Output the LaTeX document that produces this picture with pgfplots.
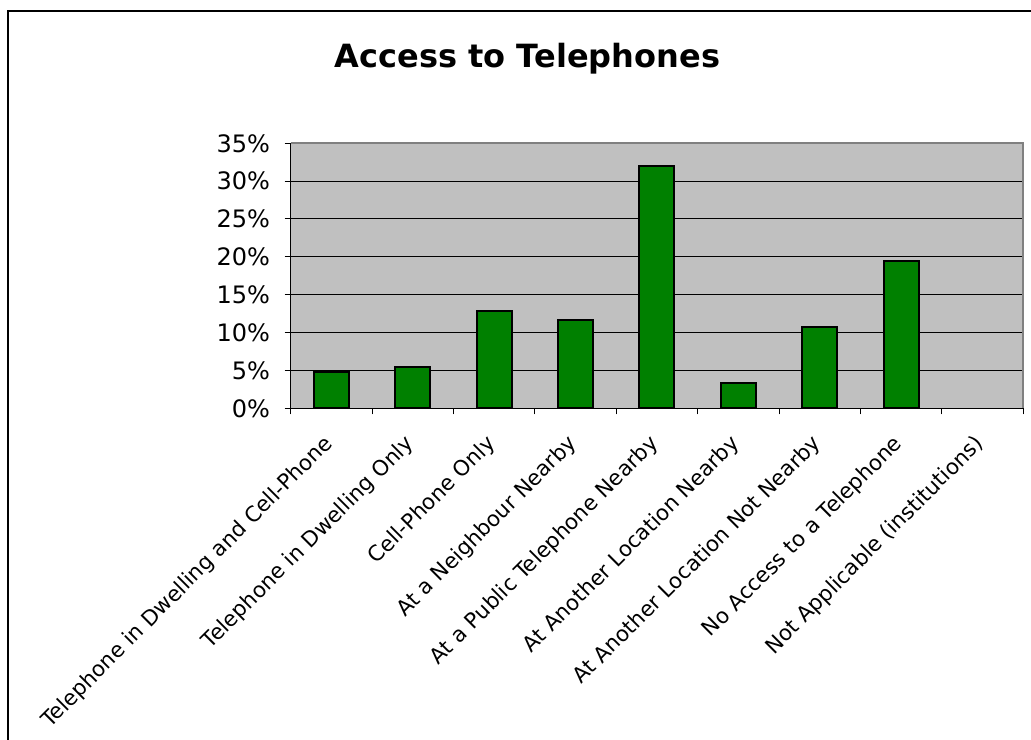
\documentclass[border=0pt]{standalone}
\usepackage{pgfplots}
\pgfplotsset{compat=1.18}
\usepackage{fontspec}
\setmainfont{DejaVu Sans}
\definecolor{plotbg}{HTML}{C0C0C0}
\definecolor{bargreen}{HTML}{008000}
\definecolor{frgray}{HTML}{808080}
\begin{document}
\begin{tikzpicture}
\useasboundingbox (0,0) rectangle (773.25pt,-554.25pt);
\draw[line width=1.5pt] (6pt,-560pt) -- (6pt,-8.25pt) -- (780pt,-8.25pt);
\begin{axis}[
  at={(218.0pt,-306.2pt)}, anchor=south west,
  scale only axis, width=549.45pt, height=198.75pt,
  xmin=-0.5, xmax=8.5, ymin=0, ymax=35,
  axis lines*=left,
  axis line style={black, line width=1.1pt},
  axis background/.style={fill=plotbg},
  xtick={-0.5,0.5,...,8.5},
  x tick label as interval,
  xticklabels={Telephone in Dwelling and Cell-Phone,Telephone in Dwelling Only,Cell-Phone Only,At a Neighbour Nearby,At a Public Telephone Nearby,At Another Location Nearby,At Another Location Not Nearby,No Access to a Telephone,Not Applicable (institutions)},
  xticklabel style={rotate=45, anchor=north east, font=\fontsize{16}{18}\selectfont, inner sep=0pt, yshift=-5pt, xshift=-15pt},
  ytick={0,5,...,35},
  yticklabel={\pgfmathprintnumber[assume math mode=true]{\tick}\%},
  yticklabel style={font=\fontsize{18}{20}\selectfont, xshift=-7.5pt},
  tick align=outside, major tick length=4.5pt,
  tick style={black, line width=0.75pt},
  ymajorgrids, grid style={black, line width=0.75pt},
  title={Access to Telephones},
  title style={at={(0.3232,1)}, anchor=base, yshift=51pt, font=\fontsize{24}{26}\selectfont\bfseries},
  ybar, bar width=0.43,
  clip=false,
]
% Not Applicable (institutions) = 0, drawn as no visible bar
\addplot[fill=bargreen, draw=black, line width=1.5pt] coordinates {
  (0,4.8) (1,5.4) (2,12.8) (3,11.7) (4,32.0) (5,3.4) (6,10.8) (7,19.4)
};
\draw[frgray, line width=1.5pt] (rel axis cs:0,1) -- (rel axis cs:1,1) -- (rel axis cs:1,0);
\end{axis}
\end{tikzpicture}
\end{document}
